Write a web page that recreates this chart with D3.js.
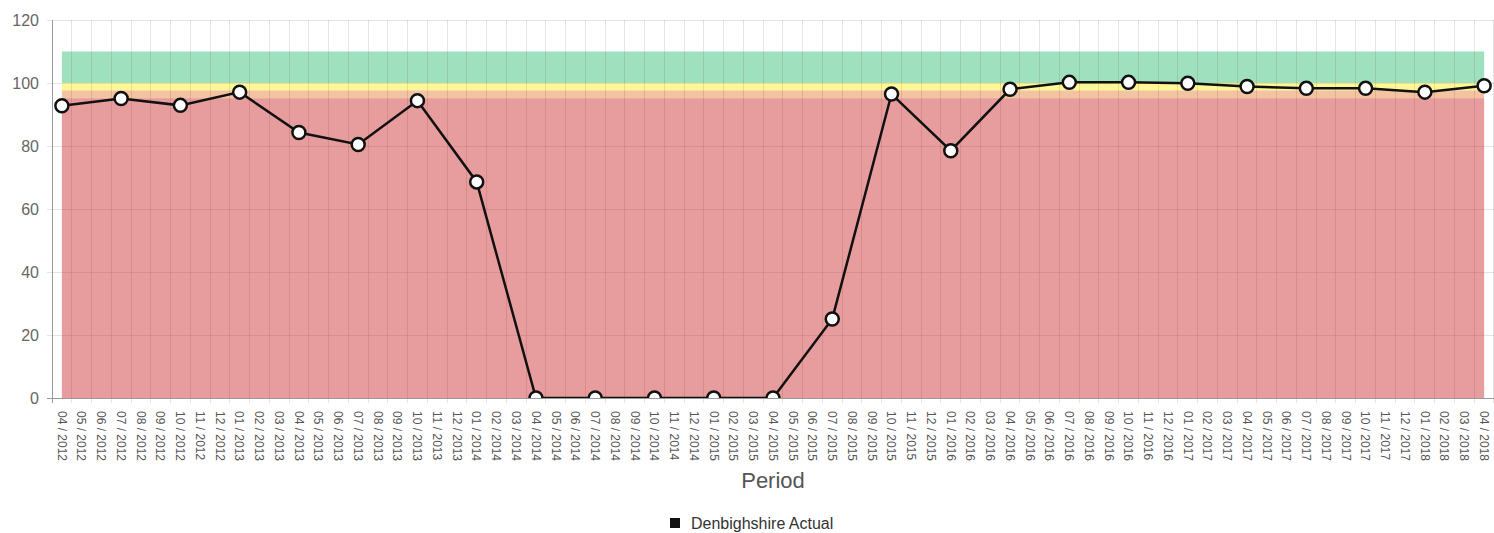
<!DOCTYPE html>
<html><head><meta charset="utf-8">
<script src="https://cdn.jsdelivr.net/npm/d3@7/dist/d3.min.js"></script>
<style>body{margin:0;background:#fff;} svg{display:block;font-family:"Liberation Sans",Arial,sans-serif;}</style>
</head><body><svg id="c" width="1494" height="533"></svg>
<script>
// months 04/2012 .. 04/2018
const months = [];
for (let y = 2012, m = 4; y < 2018 || (y === 2018 && m <= 4); ) {
  months.push(String(m).padStart(2, "0") + " / " + y);
  m++; if (m > 12) { m = 1; y++; }
}
const pointPeriods = ["04 / 2012","07 / 2012","10 / 2012","01 / 2013","04 / 2013","07 / 2013","10 / 2013","01 / 2014",
  "04 / 2014","07 / 2014","10 / 2014","01 / 2015","04 / 2015","07 / 2015","10 / 2015","01 / 2016",
  "04 / 2016","07 / 2016","10 / 2016","01 / 2017","04 / 2017","07 / 2017","10 / 2017","01 / 2018","04 / 2018"];
const actualValues = [92.8,95.1,92.9,97.1,84.3,80.5,94.4,68.6,0,0,0,0,0,25.1,96.5,78.5,98.0,100.2,100.2,99.9,98.9,98.3,98.3,97.1,99.1];
const yTicks = [0,20,40,60,80,100,120];
const bands = [
  {from:0, to:95.2, color:"#e59696"},
  {from:95.2, to:97.7, color:"#f2bf9b"},
  {from:97.7, to:100, color:"#fff68e"},
  {from:100, to:110, color:"#98dfb9"}
];
const seriesName = "Denbighshire Actual";

const svg = d3.select("#c");
const L = 52, R = 1494, T = 20, B = 398;
const x = d3.scaleBand().domain(months).range([L, R]);
const xc = d => x(d) + x.bandwidth()/2;
const y = d3.scaleLinear().domain([0,120]).range([B, T]);

svg.append("defs").append("clipPath").attr("id","plot")
  .append("rect").attr("x", L).attr("y", T - 10).attr("width", R - L).attr("height", B - T + 10);

// gridlines
const g = svg.append("g");
g.selectAll("line.h").data(yTicks).join("line")
  .attr("x1", L-5).attr("x2", R).attr("y1", d=>y(d)).attr("y2", d=>y(d))
  .attr("stroke", "rgba(0,0,0,0.1)").attr("stroke-width",1).attr("shape-rendering","crispEdges");
const bounds = months.map(m => x(m)).concat([R-0.5]);
g.selectAll("line.v").data(bounds.slice(1)).join("line")
  .attr("x1", d=>d).attr("x2", d=>d).attr("y1", T).attr("y2", B+5)
  .attr("stroke", "rgba(0,0,0,0.1)").attr("stroke-width",1).attr("shape-rendering","crispEdges");

// bands
const x0 = xc(months[0]), x1 = xc(months[months.length-1]);
svg.append("g").selectAll("rect").data(bands).join("rect")
  .attr("x", x0).attr("width", x1 - x0)
  .attr("y", d=>y(d.to)).attr("height", d=>y(d.from)-y(d.to))
  .attr("fill", d=>d.color).attr("opacity", 0.93);

// gridlines showing through bands
const g2 = svg.append("g");
g2.selectAll("line.h").data(yTicks.filter(v=>v<=110 && v>0)).join("line")
  .attr("x1", x0).attr("x2", x1).attr("y1", d=>y(d)).attr("y2", d=>y(d))
  .attr("stroke", "rgba(120,0,0,0.08)").attr("shape-rendering","crispEdges");
g2.selectAll("line.v").data(bounds.slice(1).filter(b=>b>x0 && b<x1)).join("line")
  .attr("x1", d=>d).attr("x2", d=>d).attr("y1", y(110)).attr("y2", B)
  .attr("stroke", "rgba(100,0,0,0.1)").attr("shape-rendering","crispEdges");

// axes
svg.append("line").attr("x1",L).attr("x2",L).attr("y1",T).attr("y2",B+5).attr("stroke","#999").attr("shape-rendering","crispEdges");
svg.append("line").attr("x1",L-5).attr("x2",R).attr("y1",B).attr("y2",B).attr("stroke","#999").attr("shape-rendering","crispEdges");
svg.append("g").selectAll("text").data(yTicks).join("text")
  .attr("x", L-13).attr("y", d=>y(d)).attr("dy","0.36em").attr("text-anchor","end")
  .attr("font-size", 16).attr("fill","#666").text(d=>d);

svg.append("g").selectAll("text").data(months).join("text")
  .attr("transform", d=>`translate(${xc(d)},${B+13}) rotate(90)`)
  .attr("dy","0.35em").attr("text-anchor","start")
  .attr("font-size", 12).attr("fill","#555").text(d=>d);

svg.append("text").attr("x", (L+R)/2).attr("y", 488).attr("text-anchor","middle")
  .attr("font-size", 22).attr("fill","#555").text("Period");

// line + points (clipped to plot area)
const pts = pointPeriods.map((p,i)=>({p, v: actualValues[i]}));
const pg = svg.append("g").attr("clip-path","url(#plot)");
pg.append("path").datum(pts)
  .attr("d", d3.line().x(d=>xc(d.p)).y(d=>y(d.v)))
  .attr("fill","none").attr("stroke","#111").attr("stroke-width",2.5);
pg.selectAll("circle").data(pts).join("circle")
  .attr("cx", d=>xc(d.p)).attr("cy", d=>y(d.v)).attr("r", 6.5)
  .attr("fill","#fff").attr("stroke","#111").attr("stroke-width",2.5);

// legend
const lg = svg.append("g");
lg.append("rect").attr("x", 670).attr("y", 518).attr("width", 10).attr("height", 10).attr("fill","#111");
lg.append("text").attr("x", 691).attr("y", 523).attr("dy","0.35em").attr("font-size",16).attr("fill","#333").text(seriesName);
</script></body></html>
